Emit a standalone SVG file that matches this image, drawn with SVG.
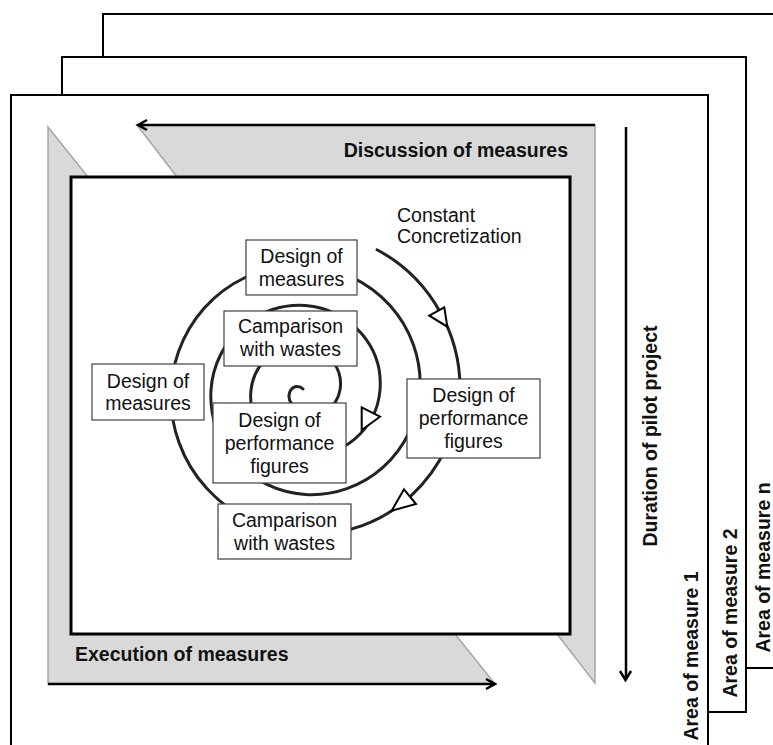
<svg xmlns="http://www.w3.org/2000/svg" width="773" height="745" viewBox="0 0 773 745">
<style>
.frame{fill:#fff;stroke:#000;stroke-width:2}
.band{fill:#d9d9d9;stroke:#a6a6a6;stroke-width:1.5;stroke-linejoin:miter}
.arr{fill:none;stroke:#000;stroke-width:2.5}
.box{fill:#fff;stroke:#404040;stroke-width:1.2}
.t{font-family:"Liberation Sans",Arial,sans-serif;font-size:19.5px;fill:#111}
.b{font-family:"Liberation Sans",Arial,sans-serif;font-size:19.5px;font-weight:bold;fill:#111}
.tri{fill:#fff;stroke:#000;stroke-width:2;stroke-linejoin:miter}
</style>
<g id="frames">
<rect id="frame-n" class="frame" x="103" y="14" width="680" height="654"/>
<rect id="frame-2" class="frame" x="62" y="57" width="684" height="655"/>
<rect id="frame-1" class="frame" x="11" y="95" width="697" height="660"/>
</g>
<g id="bands">
<polygon id="execution-band" class="band" points="48,127 88,177 455,634 495,684 48,684"/>
<polygon id="discussion-band" class="band" points="137,125 595,125 595,683 557,634 177,177"/>
</g>
<g id="connectors">
<path class="arr" d="M595,125 H138 M147,120 L138,125 L147,130"/>
<path class="arr" d="M48,684 H494 M486,679 L495,684 L486,689"/>
<path class="arr" d="M626,127 V679 M620,671 L625.5,680 L631,671"/>
</g>
<g id="workspace">
<rect class="frame" x="71" y="177" width="499" height="457" style="stroke-width:3"/>
</g>
<g id="spiral">
<path fill="none" stroke="#222" stroke-width="3" stroke-linecap="round" d="M377,249.7 A156,156 0 0 1 440.2,312.2 A155,155 0 0 1 460,390 A152,152 0 0 1 411.2,495.7 A147,147 0 0 1 305.5,534.5 A142,142 0 0 1 206.9,488.6 A137,137 0 0 1 171,390 A132,132 0 0 1 213.9,298.4 A127,127 0 0 1 305.5,265.5 A122,122 0 0 1 390,305.5 A117,117 0 0 1 420,390 A112,112 0 0 1 382.9,467.4 A107,107 0 0 1 305.5,494.5 A102,102 0 0 1 235.1,460.4 A97,97 0 0 1 211,390 A92,92 0 0 1 242.2,326.7 A87,87 0 0 1 305.5,305.5 A82,82 0 0 1 361.7,333.8 A77,77 0 0 1 380,390 A72,72 0 0 1 354.6,439.1 A67,67 0 0 1 305.5,454.5 A62,62 0 0 1 263.4,432.1 A57,57 0 0 1 251,390 A52,52 0 0 1 270.5,355 A47,47 0 0 1 305.5,345.5 A42,42 0 0 1 333.4,362.1 A37,37 0 0 1 340,390 A32,32 0 0 1 326.4,410.9 A27,27 0 0 1 305.5,414.5 A22,22 0 0 1 291.7,403.8 A12,12 0 0 1 289.5,393 A9,9 0 0 1 296,386.5 A8,8 0 0 1 303,389"/>
<polygon class="tri" points="429.3,315.7 444.3,307.3 447.3,326.7"/>
<polygon class="tri" points="361.7,407.3 380,416.7 361.7,430"/>
<polygon class="tri" points="404,489.3 416,504 391.7,510.7"/>
</g>
<g id="node-design-measures-top">
<rect class="box" x="246" y="240" width="111" height="55"/>
<text class="t" x="301.5" y="263" text-anchor="middle">Design of</text>
<text class="t" x="301.5" y="286" text-anchor="middle">measures</text>
</g>
<g id="node-comparison-inner">
<rect class="box" x="224" y="311" width="133" height="55"/>
<text class="t" x="290.5" y="333" text-anchor="middle">Camparison</text>
<text class="t" x="290.5" y="356" text-anchor="middle">with wastes</text>
</g>
<g id="node-design-measures-left">
<rect class="box" x="92" y="364" width="112" height="56"/>
<text class="t" x="148" y="388" text-anchor="middle">Design of</text>
<text class="t" x="148" y="410" text-anchor="middle">measures</text>
</g>
<g id="node-performance-inner">
<rect class="box" x="213" y="403" width="133" height="80"/>
<text class="t" x="279.5" y="427" text-anchor="middle">Design of</text>
<text class="t" x="279.5" y="450" text-anchor="middle">performance</text>
<text class="t" x="279.5" y="472.5" text-anchor="middle">figures</text>
</g>
<g id="node-performance-right">
<rect class="box" x="407" y="379" width="133" height="79"/>
<text class="t" x="473.5" y="402" text-anchor="middle">Design of</text>
<text class="t" x="473.5" y="425" text-anchor="middle">performance</text>
<text class="t" x="473.5" y="448" text-anchor="middle">figures</text>
</g>
<g id="node-comparison-bottom">
<rect class="box" x="218" y="504" width="133" height="55"/>
<text class="t" x="284.5" y="527" text-anchor="middle">Camparison</text>
<text class="t" x="284.5" y="549.5" text-anchor="middle">with wastes</text>
</g>
<g id="labels">
<text class="t" x="397" y="222">Constant</text>
<text class="t" x="397" y="243">Concretization</text>
<text class="b" x="568" y="157" text-anchor="end">Discussion of measures</text>
<text class="b" x="75" y="661">Execution of measures</text>
<text class="b" transform="translate(657,436) rotate(-90)" text-anchor="middle">Duration of pilot project</text>
<text class="b" transform="translate(698,656) rotate(-90)" text-anchor="middle">Area of measure 1</text>
<text class="b" transform="translate(736.5,613) rotate(-90)" text-anchor="middle">Area of measure 2</text>
<text class="b" transform="translate(770,567.5) rotate(-90)" text-anchor="middle">Area of measure n</text>
</g>
</svg>
